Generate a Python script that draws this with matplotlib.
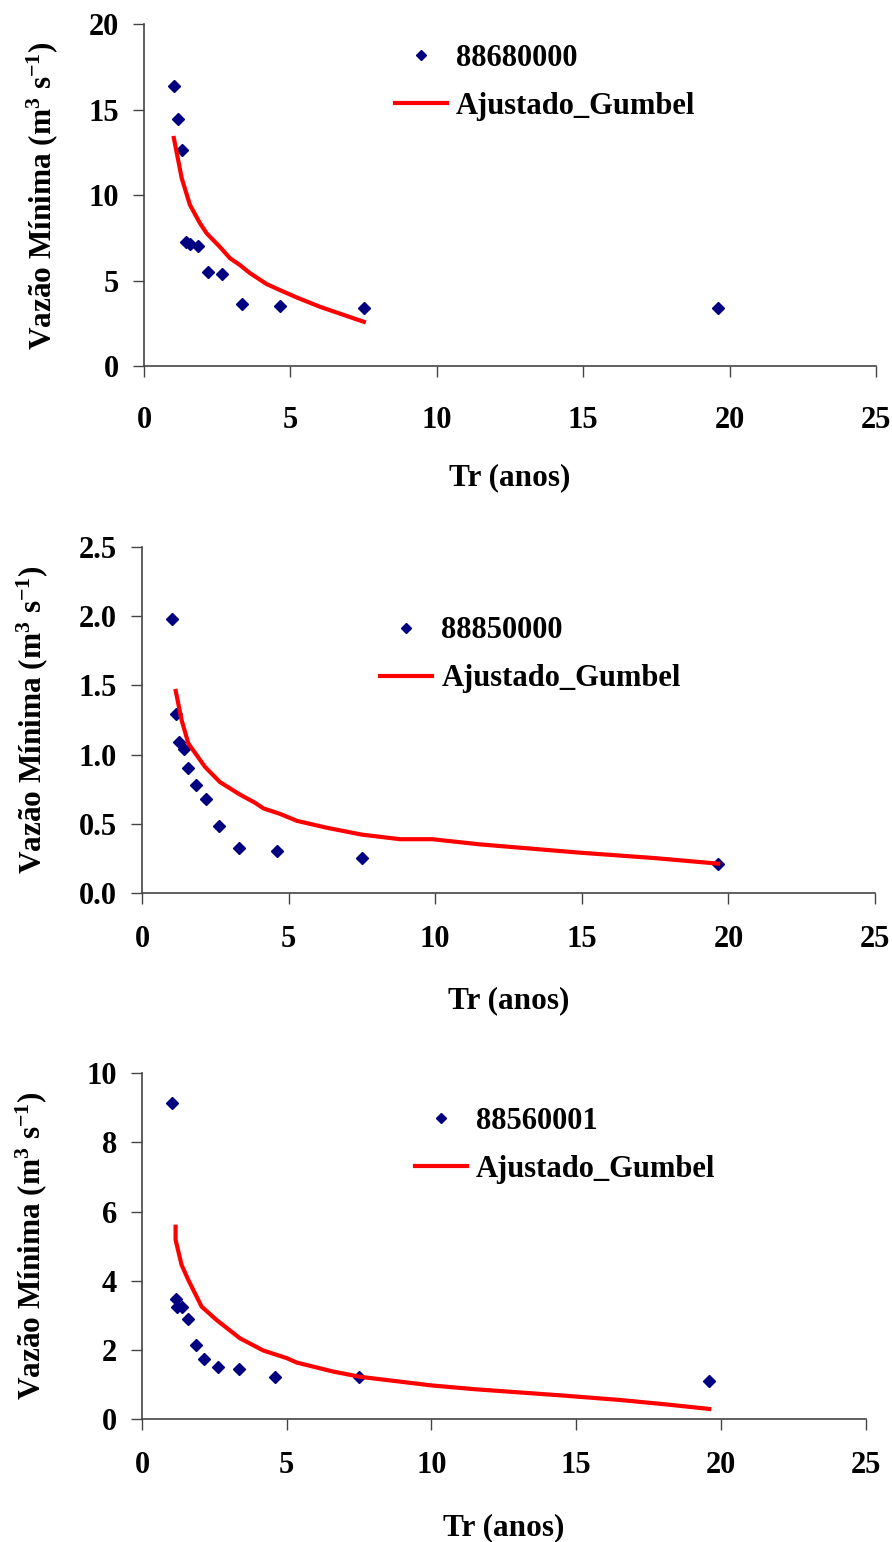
import matplotlib
matplotlib.use("Agg")
import matplotlib.pyplot as plt

plt.rcParams['font.family'] = ['Liberation Serif', 'DejaVu Serif']
plt.rcParams['font.weight'] = 'bold'
plt.rcParams['mathtext.fontset'] = 'custom'
plt.rcParams['mathtext.rm'] = 'Liberation Serif:bold'
plt.rcParams['mathtext.bf'] = 'Liberation Serif:bold'
plt.rcParams['mathtext.default'] = 'rm'

# station 88680000
tr1 = [1.04, 1.17, 1.30, 1.43, 1.57, 1.85, 2.19, 2.67, 3.36, 4.65, 7.51, 19.59]
q1 = [16.38, 14.48, 12.63, 7.24, 7.16, 7.01, 5.50, 5.37, 3.61, 3.51, 3.40, 3.38]
tr1_fit = [1.02, 1.29, 1.57, 1.91, 2.14, 2.59, 2.94, 3.28, 3.62, 4.19, 4.64, 5.21, 6.01, 7.51]
q1_fit = [13.35, 10.99, 9.43, 8.37, 7.77, 6.98, 6.31, 5.91, 5.44, 4.80, 4.45, 4.02, 3.47, 2.59]

# station 88850000
tr2 = [1.01, 1.15, 1.27, 1.42, 1.56, 1.84, 2.18, 2.64, 3.32, 4.62, 7.50, 19.65]
q2 = [1.98, 1.29, 1.09, 1.04, 0.90, 0.78, 0.68, 0.48, 0.32, 0.30, 0.25, 0.21]
tr2_fit = [1.15, 1.35, 1.58, 2.15, 2.66, 3.34, 3.86, 4.14, 4.71, 5.28, 6.30, 7.50,
           8.8, 9.9, 11.5, 14.9, 17.5, 19.65]
q2_fit = [1.46, 1.25, 1.08, 0.91, 0.80, 0.71, 0.65, 0.61, 0.57, 0.52, 0.47, 0.42,
          0.387, 0.387, 0.35, 0.29, 0.25, 0.21]

# station 88560001
tr3 = [1.03, 1.16, 1.22, 1.37, 1.58, 1.87, 2.14, 2.62, 3.36, 4.61, 7.51, 19.6]
q3 = [9.13, 3.47, 3.23, 3.23, 2.89, 2.14, 1.74, 1.51, 1.45, 1.22, 1.22, 1.10]
tr3_fit = [1.16, 1.16, 1.37, 1.60, 2.06, 2.58, 3.39, 4.19, 5.0, 5.35, 6.61, 7.53,
           8.91, 10.0, 11.5, 13.0, 14.5, 16.5, 18.0, 19.6]
q3_fit = [5.56, 5.18, 4.45, 4.02, 3.25, 2.86, 2.33, 1.98, 1.76, 1.63, 1.37, 1.22,
          1.08, 0.97, 0.86, 0.77, 0.68, 0.55, 0.43, 0.29]

panels = [
    dict(tr=tr1, q=q1, trf=tr1_fit, qf=q1_fit, name='88680000',
         rect=[0.1614, 0.7626, 0.8206, 0.2216], ylim=(0, 20), yticks=[0, 5, 10, 15, 20],
         fmt='{:.0f}', leg=(0.343, 0.942), ylab=-0.115, xpad=21, lpad=20),
    dict(tr=tr2, q=q2, trf=tr2_fit, qf=q2_fit, name='88850000',
         rect=[0.1592, 0.4211, 0.8218, 0.2240], ylim=(0, 2.5), yticks=[0, 0.5, 1.0, 1.5, 2.0, 2.5],
         fmt='{:.1f}', leg=(0.325, 0.80), ylab=-0.126, xpad=15, lpad=23.5),
    dict(tr=tr3, q=q3, trf=tr3_fit, qf=q3_fit, name='88560001',
         rect=[0.1592, 0.0798, 0.8111, 0.2242], ylim=(0, 10), yticks=[0, 2, 4, 6, 8, 10],
         fmt='{:.0f}', leg=(0.377, 0.902), ylab=-0.128, xpad=15, lpad=24),
]

fig = plt.figure(figsize=(8.92, 15.42), dpi=100)

for p in panels:
    ax = fig.add_axes(p['rect'])
    ax.plot(p['tr'], p['q'], 'D', color='#000080', ms=6.5, label=p['name'])
    ax.plot(p['trf'], p['qf'], '-', color='red', lw=3, label='Ajustado_Gumbel')
    ax.set_xlim(0, 25)
    ax.set_ylim(*p['ylim'])
    ax.set_xticks([0, 5, 10, 15, 20, 25])
    ax.set_yticks(p['yticks'])
    ax.set_yticklabels([p['fmt'].format(v) for v in p['yticks']])
    for s in ['top', 'right']:
        ax.spines[s].set_visible(False)
    for s in ['left', 'bottom']:
        ax.spines[s].set_color('#444444')
        ax.spines[s].set_linewidth(1.2)
    ax.tick_params(axis='x', direction='out', length=8, width=1, pad=p['xpad'], labelsize=22,
                   colors='#444444', labelcolor='black')
    ax.tick_params(axis='y', direction='out', length=8, width=1, pad=10, labelsize=22,
                   colors='#444444', labelcolor='black')
    ax.set_xlabel('Tr (anos)', fontsize=22.5, fontweight='bold', labelpad=p['lpad'])
    ax.set_ylabel(r'Vazão Mínima (m$^{3}$ s$^{-1}$)', fontsize=22.5, fontweight='bold')
    ax.yaxis.set_label_coords(p['ylab'], 0.5)
    ax.legend(loc='upper left', bbox_to_anchor=p['leg'], frameon=False, fontsize=22,
              handlelength=1.7, handletextpad=0.3, labelspacing=0.62,
              borderpad=0, borderaxespad=0, markerscale=0.75)

fig.savefig('out.png', dpi=100)
